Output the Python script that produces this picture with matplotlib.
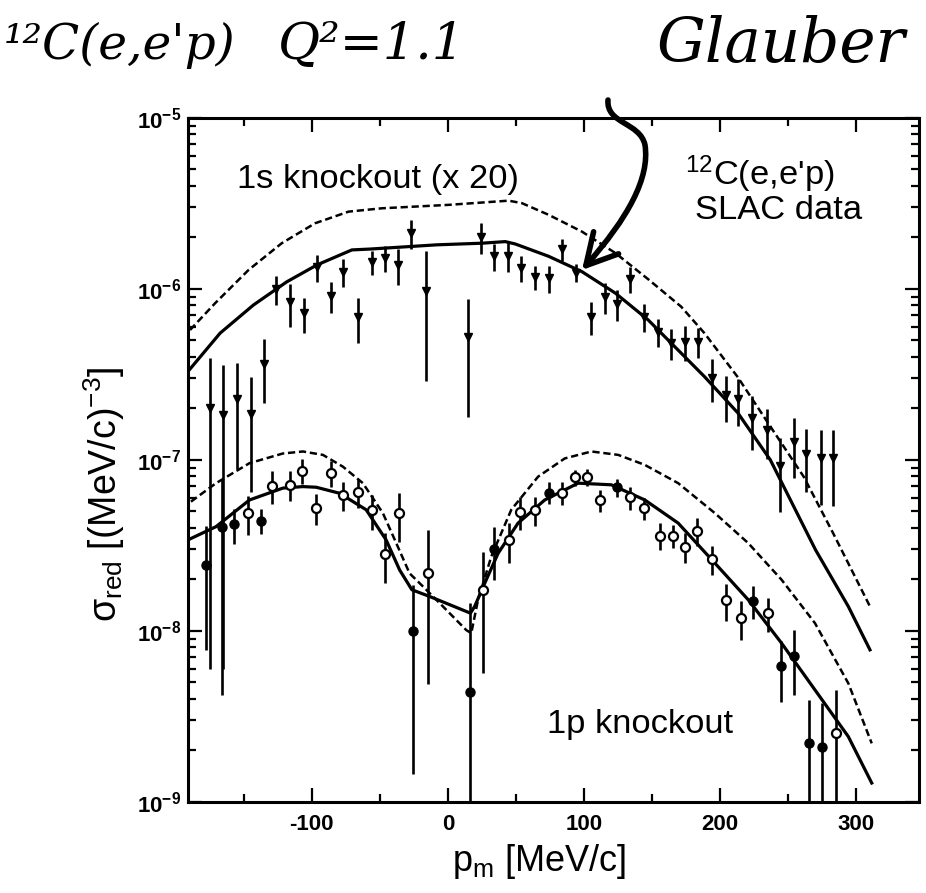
import numpy as np
import matplotlib.pyplot as plt
from matplotlib.path import Path
from matplotlib.patches import FancyArrowPatch

plt.rcParams['font.family'] = 'Liberation Sans'
plt.rcParams['mathtext.fontset'] = 'custom'
plt.rcParams['mathtext.rm'] = 'Liberation Sans'
plt.rcParams['mathtext.it'] = 'Liberation Sans:italic'
plt.rcParams['mathtext.bf'] = 'Liberation Sans:bold'
plt.rcParams['axes.unicode_minus'] = False

# 1s knockout data (already multiplied by 20)
pm_1s = [-175, -165, -155, -145, -135, -126, -116, -106, -96, -86, -77, -66,
         -56, -46, -37, -27, -16, 15, 24, 34, 44, 54, 64, 74, 84, 94, 105, 115,
         124, 134, 144, 154, 164, 174, 184, 194, 204, 213, 223, 234, 244, 254,
         263, 274, 283]
sig_1s = np.array([2.00, 1.83, 2.28, 1.85, 3.64, 10.0, 8.36, 7.18, 13.4, 9.14,
                   12.6, 6.84, 14.3, 15.2, 13.8, 21.2, 9.73, 5.23, 20.2, 15.5,
                   15.6, 13.3, 11.7, 11.6, 17.1, 12.4, 6.84, 9.01, 8.15, 11.4,
                   6.89, 5.62, 4.85, 4.92, 4.92, 3.03, 2.38, 2.28, 1.75, 1.50,
                   0.923, 1.27, 1.08, 1.02, 1.02]) * 1e-7
err_1s = np.array([1.94, 1.77, 1.40, 1.20, 1.48, 1.9, 2.36, 1.65, 2.4, 1.9,
                   2.35, 2.0, 2.3, 2.6, 3.3, 4.2, 6.85, 3.45, 4.1, 2.75, 3.1,
                   2.35, 1.9, 2.1, 2.6, 1.5, 1.5, 1.85, 1.7, 2.0, 1.27, 1.05,
                   1.0, 1.15, 1.0, 0.85, 0.72, 0.70, 0.60, 0.49, 0.425, 0.485,
                   0.43, 0.475, 0.48]) * 1e-7

# 1p knockout data
pm_1p = [-178, -166, -157, -147, -137, -129, -116, -107, -97, -86, -77, -66,
         -56, -46, -36, -26, -15, 16, 26, 34, 45, 53, 64, 74, 84, 93, 102, 112,
         124, 134, 144, 156, 165, 174, 183, 194, 204, 215, 224, 235, 245, 254,
         265, 275, 285]
sig_1p = np.array([2.43, 4.07, 4.21, 4.88, 4.42, 7.05, 7.15, 8.65, 5.23, 8.43,
                   6.24, 6.47, 5.06, 2.82, 4.88, 1.00, 2.19, 0.438, 1.74, 3.01,
                   3.40, 4.99, 5.11, 6.44, 6.44, 7.89, 7.93, 5.83, 6.92, 6.03,
                   5.23, 3.61, 3.61, 3.11, 3.85, 2.62, 1.52, 1.19, 1.50, 1.27,
                   0.627, 0.715, 0.220, 0.210, 0.254]) * 1e-8
err_1p = np.array([1.66, 3.65, 0.97, 1.24, 0.71, 1.55, 1.42, 1.42, 1.08, 1.46,
                   1.23, 1.27, 1.15, 0.91, 1.56, 0.855, 1.70, 1.01, 1.17, 1.02,
                   0.89, 1.08, 0.99, 0.94, 0.99, 0.88, 0.89, 0.85, 0.86, 0.93,
                   0.75, 0.65, 0.56, 0.61, 0.72, 0.50, 0.37, 0.30, 0.33, 0.29,
                   0.243, 0.293, 0.175, 0.168, 0.198]) * 1e-8
# True = filled symbol, False = open symbol
filled_1p = np.array([1, 1, 1, 0, 1, 0, 0, 0, 0, 0, 0, 0, 0, 0, 0, 1, 0, 1, 0, 1,
                      0, 0, 0, 1, 0, 0, 0, 0, 1, 0, 0, 0, 0, 0, 0, 0, 0, 0, 1, 0,
                      1, 1, 1, 1, 0], dtype=bool)

# Glauber calculations
pm_1s_glauber = [-189.5, -167.4, -142.9, -118.4, -96.3, -70.6, -57.1, -8.1, 25,
                 42.1, 49.5, 74, 98.5, 123, 147, 171.3, 188.4, 213, 236.8, 270,
                 294.1, 310]
sig_1s_glauber = [3.40e-7, 5.51e-7, 8.05e-7, 1.10e-6, 1.38e-6, 1.69e-6, 1.71e-6,
                  1.81e-6, 1.85e-6, 1.89e-6, 1.83e-6, 1.55e-6, 1.26e-6, 9.44e-7,
                  6.59e-7, 4.21e-7, 3.07e-7, 1.88e-7, 1.0e-7, 2.98e-8, 1.39e-8,
                  7.75e-9]
pm_1s_pwia = [-189.5, -171.1, -146.5, -122.1, -97.6, -73, -48.5, 0.5, 44.6, 54.4,
              74, 98.5, 123, 147.6, 171.3, 188.4, 212.6, 236.8, 261.3, 283, 310]
sig_1s_pwia = [5.75e-7, 8.24e-7, 1.29e-6, 1.85e-6, 2.42e-6, 2.83e-6, 2.96e-6,
               3.10e-6, 3.28e-6, 3.17e-6, 2.71e-6, 2.16e-6, 1.62e-6, 1.13e-6,
               7.87e-7, 5.51e-7, 3.07e-7, 1.57e-7, 7.98e-8, 3.72e-8, 1.39e-8]

pm_1p_glauber = [-191.2, -170.4, -145.8, -121.3, -106.6, -96.8, -79.6, -60.1,
                 -45.4, -35.5, -26.5, -13.5, 16.5, 19.6, 27, 36.8, 51.5, 71.1,
                 95.6, 120, 144.6, 169.1, 196.1, 220.6, 245.1, 269.6, 294.1, 311.3]
sig_1p_glauber = [3.40e-8, 4.07e-8, 5.83e-8, 6.84e-8, 6.98e-8, 6.92e-8, 6.38e-8,
                  5.11e-8, 3.40e-8, 2.27e-8, 1.74e-8, 1.59e-8, 1.27e-8, 1.39e-8,
                  1.90e-8, 2.84e-8, 4.27e-8, 5.83e-8, 7.31e-8, 7.15e-8, 5.83e-8,
                  4.27e-8, 2.49e-8, 1.52e-8, 8.47e-9, 4.52e-9, 2.41e-9, 1.29e-9]
pm_1p_pwia = [-188.8, -170.4, -145.8, -121.3, -106.6, -91.9, -77.2, -62.5, -47.8,
              -38, -28.2, -18.4, -3.7, 13.5, 17.1, 22.1, 31.8, 46.5, 66.2, 85.8,
              105.4, 125, 144.6, 169.1, 196.1, 220.6, 245.1, 269.6, 294.1, 311.3]
sig_1p_pwia = [5.70e-8, 7.31e-8, 9.57e-8, 1.09e-7, 1.12e-7, 1.07e-7, 9.13e-8,
               7.31e-8, 4.88e-8, 3.26e-8, 2.17e-8, 1.82e-8, 1.39e-8, 1.01e-8,
               9.70e-9, 1.52e-8, 2.72e-8, 5.11e-8, 7.98e-8, 1.02e-7, 1.12e-7,
               1.07e-7, 9.35e-8, 7.31e-8, 4.88e-8, 3.26e-8, 1.99e-8, 1.11e-8,
               4.94e-9, 2.20e-9]

ytick_exp = [-9, -8, -7, -6, -5]
xticks = [-100, 0, 100, 200, 300]

fig = plt.figure(figsize=(9.26, 8.93), dpi=100)
ax = fig.add_axes([0.203, 0.102, 0.7894, 0.766])

dash = (2.9, 1.5)
ax.plot(pm_1s_pwia, sig_1s_pwia, color='black', lw=1.8, dashes=dash)
ax.plot(pm_1s_glauber, sig_1s_glauber, color='black', lw=2.3)
ax.plot(pm_1p_pwia, sig_1p_pwia, color='black', lw=1.8, dashes=dash)
ax.plot(pm_1p_glauber, sig_1p_glauber, color='black', lw=2.3)


def draw_points(x, y, e, **kw):
    x = np.asarray(x)
    # lower bar stops just above zero so it runs off the log axis
    lo = np.minimum(e, y * 0.9999)
    ax.errorbar(x, y, yerr=[lo, e], fmt='none', ecolor='black',
                elinewidth=1.9, capsize=0)
    ax.plot(x, y, ls='none', **kw)


draw_points(pm_1s, sig_1s, err_1s, marker='v', ms=5.5, color='black')
pm_1p_arr = np.asarray(pm_1p)
draw_points(pm_1p_arr[filled_1p], sig_1p[filled_1p], err_1p[filled_1p],
            marker='o', ms=6.5, color='black')
draw_points(pm_1p_arr[~filled_1p], sig_1p[~filled_1p], err_1p[~filled_1p],
            marker='o', ms=6.5, mfc='white', mec='black', mew=1.6)

ax.set_yscale('log')
ax.set_xlim(-191, 346)
ax.set_ylim(1e-9, 1e-5)

ax.set_xticks(xticks)
ax.set_xticklabels([str(v) for v in xticks], fontsize=16, fontweight='bold')
ax.set_xticks(np.arange(-150, 350, 100), minor=True)
ax.set_yticks([10.0 ** p for p in ytick_exp])
ax.set_yticklabels([r'$\mathbf{10^{%d}}$' % p for p in ytick_exp], fontsize=16)
ax.tick_params(which='both', direction='in', top=True, right=True, width=1.6)
ax.tick_params(which='major', length=10)
ax.tick_params(which='minor', length=5.5)
ax.tick_params(axis='x', which='major', pad=9)
ax.tick_params(axis='y', which='major', pad=5)
for s in ax.spines.values():
    s.set_linewidth(2.2)

ax.set_xlabel('p$_{\\rm m}$ [MeV/c]', fontsize=26)
ax.xaxis.set_label_coords(0.48, -0.058)
ax.set_ylabel('σ$_{\\rm red}$ [(MeV/c)$^{-3}$]', fontsize=27)
ax.yaxis.set_label_coords(-0.083, 0.45)

ax.text(-155, 3.9e-6, '1s knockout (x 20)', fontsize=24.8)
ax.text(174, 4.06e-6, '$^{12}$C(e,e\'p)', fontsize=24.8)
ax.text(181.5, 2.56e-6, 'SLAC data', fontsize=24.8)
ax.text(73, 2.54e-9, '1p knockout', fontsize=24.8)

# handwritten notes above the frame
hand = dict(family='DejaVu Serif', style='italic', va='baseline')
fig.text(0.004, 0.934, '¹²C(e,e\'p)', fontsize=35, **hand)
fig.text(0.300, 0.934, 'Q²=1.1', fontsize=37, **hand)
fig.text(0.709, 0.931, 'Glauber', fontsize=44, **hand)

W, H = 926.0, 893.0
arrow_px = [(608, 100), (606, 124), (640, 122), (645, 145),
            (650, 178), (628, 218), (582, 270)]
codes = [Path.MOVETO] + [Path.CURVE4] * 6
verts = [(px / W, 1 - py / H) for px, py in arrow_px]
arrow = FancyArrowPatch(path=Path(verts, codes), transform=fig.transFigure,
                        arrowstyle='->,head_length=1.1,head_width=0.6',
                        mutation_scale=20, lw=4, color='black')
fig.add_artist(arrow)

fig.savefig('out.png', dpi=100)
